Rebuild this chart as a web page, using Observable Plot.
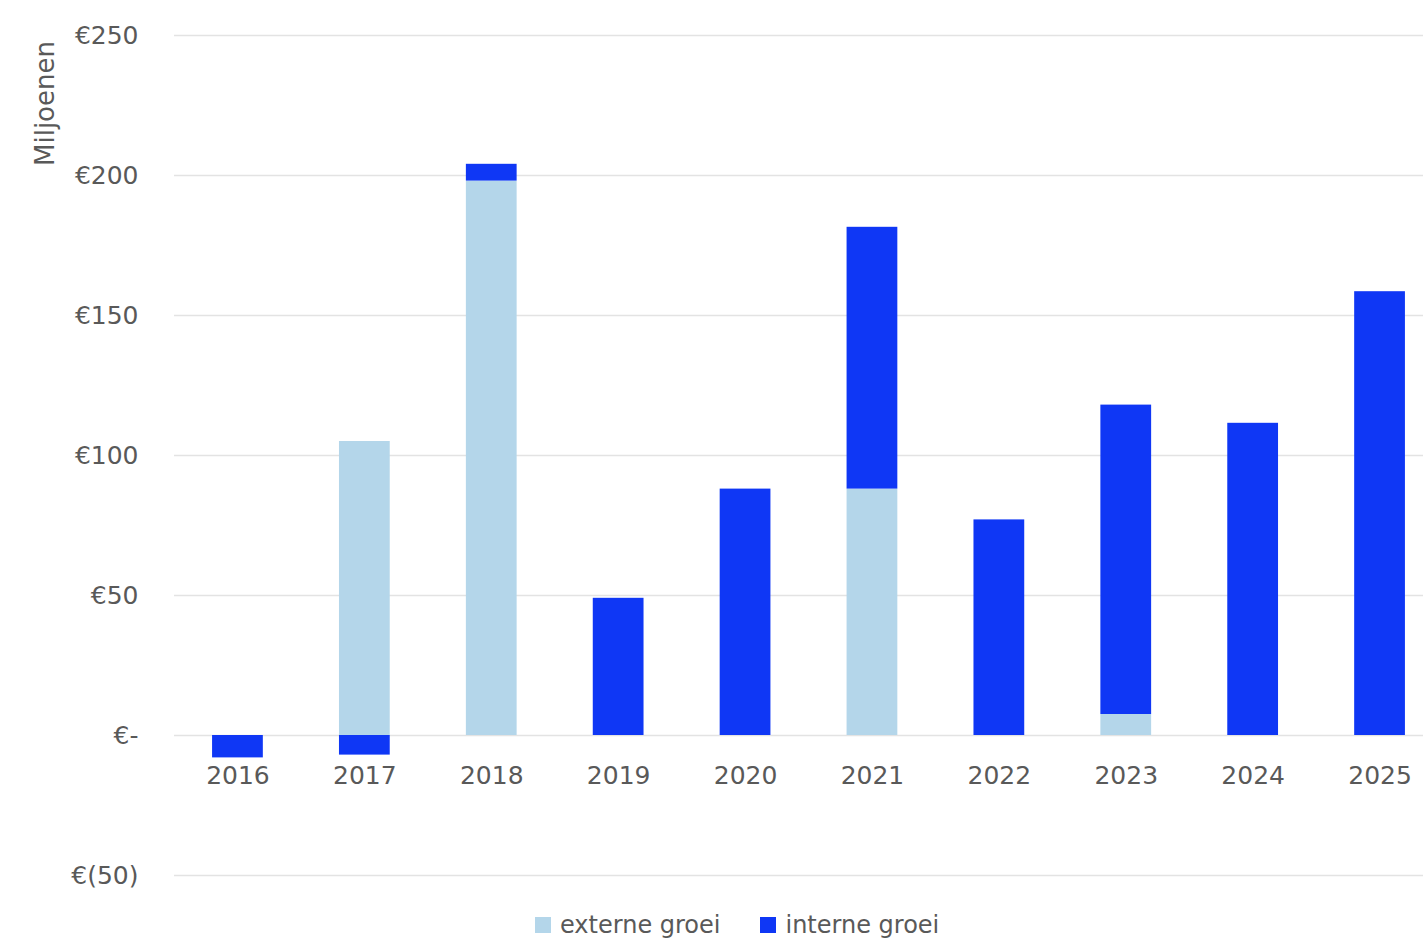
<!DOCTYPE html>
<html>
<head>
<meta charset="utf-8">
<script src="https://cdn.jsdelivr.net/npm/d3@7"></script>
<script src="https://cdn.jsdelivr.net/npm/@observablehq/plot@0.6"></script>
<style>
  html, body { margin: 0; padding: 0; background: #fff; overflow: hidden; }
  #wrap { position: relative; width: 1423px; height: 938px; overflow: hidden; }
  #legend { position: absolute; left: 535px; top: 910px; display: flex; align-items: center;
    font-family: "DejaVu Sans", sans-serif; font-size: 24px; color: #595959; line-height: 30px; }
  #legend .sw { width: 16px; height: 16px; display: inline-block; margin-right: 9px; }
  #legend .item { display: flex; align-items: center; margin-right: 40px; }
</style>
</head>
<body>
<div id="wrap"><div id="chart"></div><div id="legend"></div></div>
<script>
const years = ["2016","2017","2018","2019","2020","2021","2022","2023","2024","2025"];
const externe = [0, 105, 198, 0, 0, 88, 0, 7.5, 0, 0];
const interne = [-8, -7, 6, 49, 88, 93.5, 77, 110.5, 111.5, 158.5];
const seriesNames = ["externe groei", "interne groei"];
const seriesColors = ["#b4d6ea", "#0f37f5"];
const yTicks = [-50, 0, 50, 100, 150, 200, 250];
const yLabel = "Miljoenen";

const rows = [];
years.forEach((y, i) => {
  rows.push({year: y, series: seriesNames[0], value: externe[i]});
  rows.push({year: y, series: seriesNames[1], value: interne[i]});
});

const fmt = d => d === 0 ? "€-" : d < 0 ? `€(${-d})` : `€${d}`;

const chart = Plot.plot({
  width: 1423,
  height: 900,
  marginLeft: 174,
  marginRight: -20,
  marginTop: 35,
  marginBottom: 25,
  style: {fontFamily: "DejaVu Sans, sans-serif", fontSize: "25px", color: "#595959", background: "#fff"},
  x: {domain: years, paddingInner: 0.6, paddingOuter: 0.3, round: false, axis: null},
  y: {domain: [-50, 250], ticks: yTicks, axis: null},
  color: {domain: seriesNames, range: seriesColors},
  marks: [
    Plot.gridY(yTicks, {stroke: "#e3e3e3", strokeOpacity: 1, strokeWidth: 1.5}),
    Plot.axisY(yTicks, {tickSize: 0, tickPadding: 36, tickFormat: fmt, fill: "#595959", fontSize: 25, label: null}),
    Plot.barY(rows, {x: "year", y: "value", fill: "series", order: seriesNames}),
    Plot.text(years, {x: d => d, y: 0, dy: 40, text: d => d, fill: "#595959", fontSize: 25}),
    Plot.text([yLabel], {frameAnchor: "top-left", dx: -139, dy: 68, rotate: -90, fill: "#595959", fontSize: 26, textAnchor: "middle"})
  ]
});
document.getElementById("chart").appendChild(chart);

const legend = document.getElementById("legend");
seriesNames.forEach((n, i) => {
  const it = document.createElement("span");
  it.className = "item";
  it.innerHTML = `<span class="sw" style="background:${seriesColors[i]}"></span><span>${n}</span>`;
  legend.appendChild(it);
});
</script>
</body>
</html>
